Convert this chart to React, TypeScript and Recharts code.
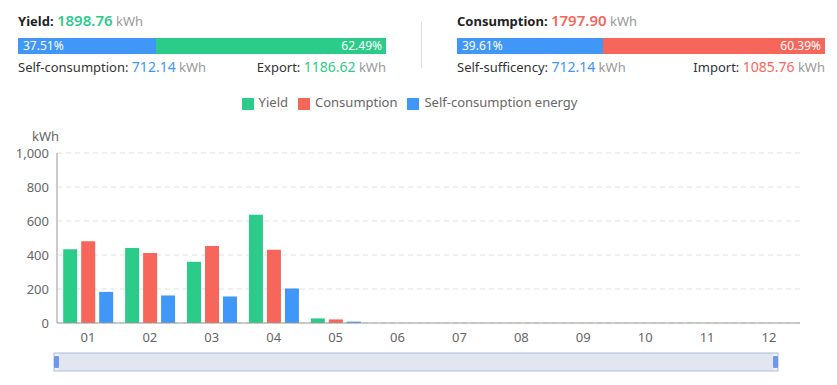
import { BarChart, Bar, XAxis, YAxis, CartesianGrid, Legend, Brush, AreaChart, Area } from 'recharts'

const months = ['01', '02', '03', '04', '05', '06', '07', '08', '09', '10', '11', '12']
const yieldValues = [434, 441, 360, 637, 27, null, null, null, null, null, null, null]
const consumptionValues = [481, 412, 453, 431, 21, null, null, null, null, null, null, null]
const selfConsumptionValues = [183, 162, 156, 203, 8, null, null, null, null, null, null, null]
const yTicks = [0, 200, 400, 600, 800, 1000]
const seriesOrder = ['Yield', 'Consumption', 'Self-consumption energy']

const GREEN = '#2bcc89'
const RED = '#f7665b'
const BLUE = '#4097f8'
const GRAY = '#999999'

const data = months.map((m, i) => ({
  month: m,
  yield: yieldValues[i],
  consumption: consumptionValues[i],
  self: selfConsumptionValues[i],
}))

function Summary({ left, title, total, color, leftPct, rightPct, leftLabel, leftValue, rightLabel, rightValue }: {
  left: number
  title: string
  total: string
  color: string
  leftPct: number
  rightPct: number
  leftLabel: string
  leftValue: string
  rightLabel: string
  rightValue: string
}) {
  return (
    <div style={{ position: 'absolute', left, top: 10, width: 368 }}>
      <div style={{ height: 20, lineHeight: '20px', whiteSpace: 'nowrap' }}>
        <span style={{ fontWeight: 700, fontSize: 13, color: '#222' }}>{title}: </span>
        <span style={{ fontWeight: 600, fontSize: 15, color }}>{total}</span>
        <span style={{ fontSize: 13, color: GRAY }}> kWh</span>
      </div>
      <div style={{ display: 'flex', marginTop: 8, height: 16, color: '#fff', fontSize: 12, lineHeight: '16px' }}>
        <div style={{ width: `${leftPct}%`, boxSizing: 'border-box', background: BLUE, paddingLeft: 5 }}>{leftPct.toFixed(2)}%</div>
        <div style={{ flex: 1, boxSizing: 'border-box', background: color, textAlign: 'right', paddingRight: 4 }}>{rightPct.toFixed(2)}%</div>
      </div>
      <div style={{ display: 'flex', justifyContent: 'space-between', marginTop: 4, fontSize: 13, lineHeight: '18px', color: '#333', whiteSpace: 'nowrap' }}>
        <span>{leftLabel}: <span style={{ color: BLUE, fontSize: 14 }}>{leftValue}</span> <span style={{ color: GRAY }}>kWh</span></span>
        <span>{rightLabel}: <span style={{ color, fontSize: 14 }}>{rightValue}</span> <span style={{ color: GRAY }}>kWh</span></span>
      </div>
    </div>
  )
}

function Traveller({ x, y, width, height }: { x?: number; y?: number; width?: number; height?: number }) {
  if (x === undefined || y === undefined || width === undefined || height === undefined) return null
  return <rect x={x} y={y + height / 2 - 6} width={width} height={12} rx={1} fill="#6f97f2" />
}

export default function App() {
  return (
    <div style={{ position: 'absolute', left: 0, top: 0, width: 837, height: 385, fontFamily: "'Noto Sans', sans-serif", background: '#fff' }}>
      <Summary left={18} title="Yield" total="1898.76" color={GREEN} leftPct={37.51} rightPct={62.49}
        leftLabel="Self-consumption" leftValue="712.14" rightLabel="Export" rightValue="1186.62" />
      <div style={{ position: 'absolute', left: 421, top: 22, width: 1, height: 46, background: '#dddddd' }} />
      <Summary left={457} title="Consumption" total="1797.90" color={RED} leftPct={39.61} rightPct={60.39}
        leftLabel="Self-sufficency" leftValue="712.14" rightLabel="Import" rightValue="1085.76" />
      <div style={{ position: 'absolute', left: 0, top: 85 }}>
        <BarChart width={837} height={300} data={data} margin={{ top: 50, right: 37, left: 0, bottom: 14 }} barSize={15} barGap={1}>
          <CartesianGrid vertical={false} stroke="#e0e0e0" strokeDasharray="5 4" />
          <Legend verticalAlign="top" align="center" iconType="square" iconSize={12}
            itemSorter={(item) => seriesOrder.indexOf(String(item.value))}
            wrapperStyle={{ top: 8, left: 0, width: 829, fontSize: 13, color: '#666' }}
            formatter={(v) => <span style={{ color: '#666', marginLeft: 1 }}>{v}</span>} />
          <XAxis dataKey="month" interval={0} tickLine={false} axisLine={{ stroke: GRAY }}
            tick={{ fill: '#666', fontSize: 13 }} tickMargin={4} />
          <YAxis width={57} domain={[0, 1000]} ticks={yTicks} tickLine={false} axisLine={{ stroke: GRAY }}
            tick={{ fill: '#666', fontSize: 13 }} tickFormatter={(v) => v.toLocaleString('en-US')}
            label={{ value: 'kWh', position: 'top', offset: 12, dx: 17, fill: '#666', fontSize: 13 }} />
          <Bar dataKey="yield" name="Yield" fill={GREEN} isAnimationActive={false} />
          <Bar dataKey="consumption" name="Consumption" fill={RED} isAnimationActive={false} />
          <Bar dataKey="self" name="Self-consumption energy" fill={BLUE} isAnimationActive={false} />
          <Brush dataKey="month" x={54} y={268} width={724} height={18} stroke="#b0bdd8" fill="#eef1f8"
            travellerWidth={5} traveller={<Traveller />} startIndex={0} endIndex={11}>
            <AreaChart data={data}>
              <Area dataKey="yield" type="monotone" stroke="#d3dbee" fill="#dfe6f5" isAnimationActive={false} connectNulls />
            </AreaChart>
          </Brush>
        </BarChart>
      </div>
    </div>
  )
}
